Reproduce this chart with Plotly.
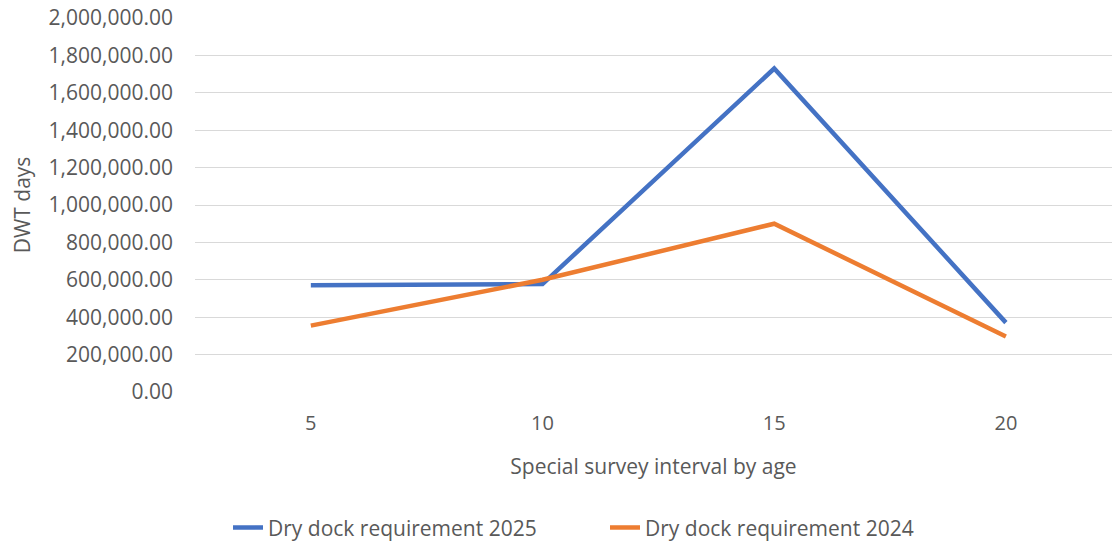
import plotly.graph_objects as go

# Survey interval categories (vessel age, years)
ages = ["5", "10", "15", "20"]

# DWT days of dry dock capacity needed per survey interval
req_2025 = [571000, 577000, 1730000, 371000]
req_2024 = [355000, 600000, 900000, 297000]

BLUE = "#4472C4"
ORANGE = "#ED7D31"
TEXT = "#595959"
FONT = "Open Sans"

fig = go.Figure()
fig.add_trace(go.Scatter(
    x=ages, y=req_2025, mode="lines", name="Dry dock requirement 2025",
    line=dict(color=BLUE, width=4.5),
))
fig.add_trace(go.Scatter(
    x=ages, y=req_2024, mode="lines", name="Dry dock requirement 2024",
    line=dict(color=ORANGE, width=4.5),
))

fig.update_layout(
    width=1112, height=544,
    margin=dict(l=195, r=0, t=18, b=152, autoexpand=False),
    paper_bgcolor="white", plot_bgcolor="white",
    font=dict(family=FONT, size=20, color=TEXT),
    showlegend=True,
    legend=dict(
        orientation="h", x=0.036, xanchor="left", y=-0.418, yanchor="bottom",
        font=dict(family=FONT, size=21, color=TEXT),
        entrywidth=332, entrywidthmode="pixels", tracegroupgap=0,
    ),
    xaxis=dict(
        type="category", range=[-0.5, 3.458], automargin=False,
        showgrid=False, showline=False, ticks="", zeroline=False,
        tickfont=dict(size=20, color=TEXT), ticklabelstandoff=17,
        title=dict(text="Special survey interval by age",
                   font=dict(size=21, color=TEXT), standoff=24),
    ),
    yaxis=dict(
        range=[0, 2000000], dtick=200000, tickformat=",.2f", automargin=True,
        showgrid=True, gridcolor="#D9D9D9", gridwidth=1,
        zeroline=False, showline=False, ticks="",
        tickfont=dict(size=21, color=TEXT), ticklabelstandoff=21,
        title=dict(text="DWT days", font=dict(size=21, color=TEXT), standoff=12),
    ),
)

fig.write_html("out.html")
